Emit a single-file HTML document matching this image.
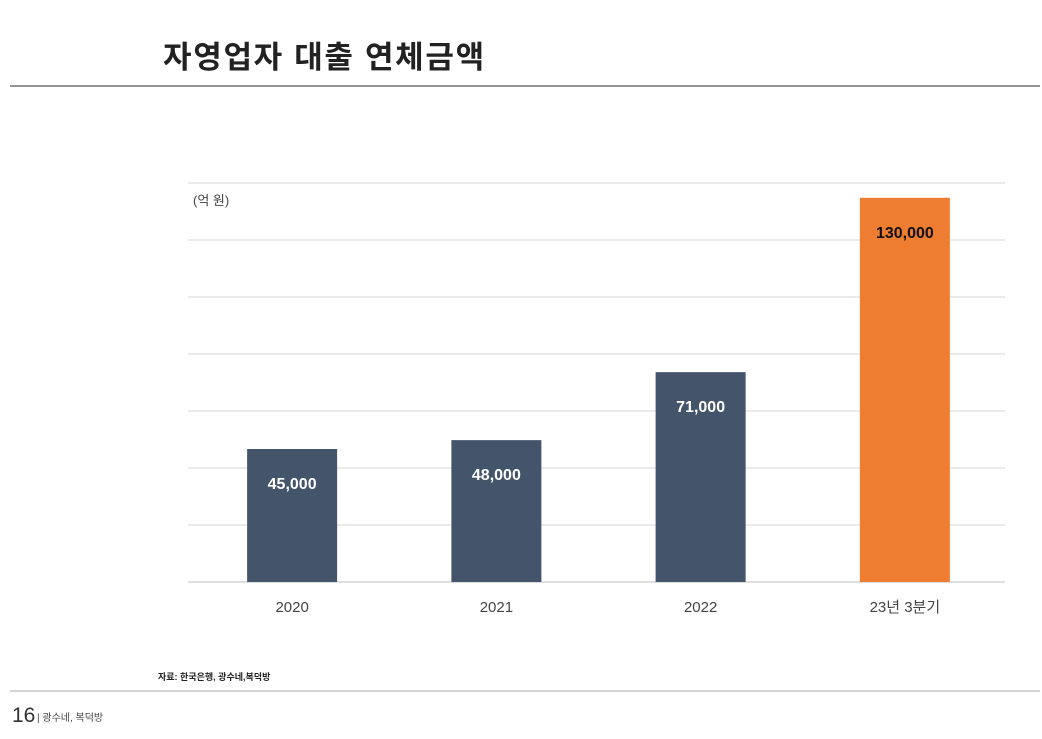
<!DOCTYPE html>
<html><head><meta charset="utf-8"><style>
body{margin:0;width:1042px;height:734px;background:#fff;overflow:hidden;font-family:"Liberation Sans","Noto Sans CJK KR",sans-serif;}
</style></head><body>
<svg width="1042" height="734" xmlns="http://www.w3.org/2000/svg" font-family="Liberation Sans, Noto Sans CJK KR, sans-serif">
<text x="163" y="68" font-size="31" font-weight="bold" fill="#222" letter-spacing="1.7">자영업자 대출 연체금액</text>
<line x1="10" y1="86" x2="1040" y2="86" stroke="#555" stroke-width="1.2"/>
<g id="grid"></g>
<text x="193" y="205" font-size="13" fill="#444">(억 원)</text>
<g id="bars"></g>
<text x="158" y="680" font-size="9" font-weight="bold" fill="#222">자료: 한국은행, 광수네,복덕방</text>
<line x1="10" y1="691" x2="1040" y2="691" stroke="#aaa" stroke-width="1"/>
<text x="12" y="722" font-size="21" fill="#333">16</text>
<text x="37" y="721" font-size="10" fill="#444">| 광수네, 복덕방</text>
</svg>
<script>
const categories=["2020","2021","2022","23년 3분기"];
const values=[45000,48000,71000,130000];
const labels=["45,000","48,000","71,000","130,000"];
const highlight=[false,false,false,true];
const ns="http://www.w3.org/2000/svg";
const x0=190,x1=1007,yBase=582,yTop=183,vMax=135000;
const bw=(x1-x0)/categories.length;
const y=v=>yBase-(v/vMax)*(yBase-yTop);
const xc=i=>x0+bw*(i+0.5);
const grid=document.getElementById('grid');
for(let k=0;k<8;k++){const gy=yTop+k*57;const l=document.createElementNS(ns,'line');
l.setAttribute('x1',188);l.setAttribute('x2',1005);l.setAttribute('y1',gy);l.setAttribute('y2',gy);
l.setAttribute('stroke',k==7?'#ccc':'#ddd');l.setAttribute('stroke-width','1.2');


grid.appendChild(l);}
const g=document.getElementById('bars');
categories.forEach((c,i)=>{
const top=y(values[i]);
const r=document.createElementNS(ns,'rect');
r.setAttribute('x',xc(i)-45);r.setAttribute('width',90);r.setAttribute('y',top);r.setAttribute('height',yBase-top);
r.setAttribute('fill',highlight[i]?'#ee7d31':'#44546a');


g.appendChild(r);
const t=document.createElementNS(ns,'text');
t.setAttribute('x',xc(i));t.setAttribute('y',top+40);t.setAttribute('text-anchor','middle');
t.setAttribute('font-size','16');t.setAttribute('font-weight','bold');t.setAttribute('fill',highlight[i]?'#111':'#fff');
t.textContent=labels[i];


g.appendChild(t);
const xl=document.createElementNS(ns,'text');
xl.setAttribute('x',xc(i));xl.setAttribute('y',612);xl.setAttribute('text-anchor','middle');
xl.setAttribute('font-size','15');xl.setAttribute('fill','#444');xl.textContent=c;


g.appendChild(xl);
});
</script>
</body></html>
